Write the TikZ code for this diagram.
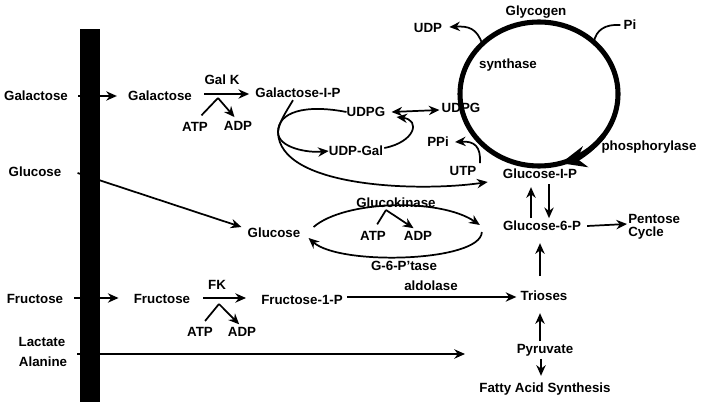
\documentclass[tikz,border=0pt]{standalone}
\usepackage{fontspec}
\setmainfont{Liberation Sans}
\usetikzlibrary{arrows.meta,calc}
\begin{document}
\begin{tikzpicture}[x=0.75pt,y=-0.75pt,
  lbl/.style={inner sep=0pt, font=\fontsize{10}{11}\selectfont\bfseries},
  ln/.style={line width=1.3pt},
  arr/.style={line width=1.3pt, -{Stealth[length=8pt,width=7pt]}},
  darr/.style={line width=1.3pt, {Stealth[length=8pt,width=7pt]}-{Stealth[length=8pt,width=7pt]}},
  glyc/.style={line width=3.8pt}]
\useasboundingbox (0,0) rectangle (702,402);
\fill[white] (0,0) rectangle (702,402);
% membrane bar
\fill[black] (80,29) rectangle (100,402);
% left labels
\node[lbl] (galL) at (36,96) {Galactose};
\node[lbl] (gluL) at (35,172) {Glucose};
\node[lbl] (fruL) at (35,299) {Fructose};
\node[lbl] (lac) at (42,342) {Lactate};
\node[lbl] (ala) at (43,362) {Alanine};
% inner labels
\node[lbl] (galI) at (160,96) {Galactose};
\node[lbl] (galK) at (222,80) {Gal K};
\node[lbl] (atp1) at (195,127) {ATP};
\node[lbl] (adp1) at (238,126) {ADP};
\node[lbl] (gal1p) at (298,93) {Galactose-I-P};
\node[lbl] (udpgL) at (366,112) {UDPG};
\node[lbl] (udpgR) at (461,108) {UDPG};
\node[lbl] (udpgal) at (356,151) {UDP-Gal};
\node[lbl] (ppi) at (438,142) {PPi};
\node[lbl] (utp) at (463,171) {UTP};
\node[lbl] (udp) at (428,28) {UDP};
\node[lbl] (glycogen) at (536,12) {Glycogen};
\node[lbl] (pi) at (630,25) {Pi};
\node[lbl] (synth) at (508,65) {synthase};
\node[lbl] (phos) at (649,147) {phosphorylase};
\node[lbl] (g1p) at (540,174) {Glucose-I-P};
\node[lbl] (g6p) at (542,226) {Glucose-6-P};
\node[lbl,anchor=west] (pent) at (628,219) {Pentose};
\node[lbl,anchor=west] (cyc) at (628,233) {Cycle};
\node[lbl] (gluI) at (274,233) {Glucose};
\node[lbl] (gk) at (396,203) {Glucokinase};
\node[lbl] (atp3) at (373,236) {ATP};
\node[lbl] (adp3) at (418,236) {ADP};
\node[lbl] (g6pase) at (404,266) {G-6-P'tase};
\node[lbl] (fruI) at (162,299) {Fructose};
\node[lbl] (fk) at (217,285) {FK};
\node[lbl] (atp2) at (200,332) {ATP};
\node[lbl] (adp2) at (242,332) {ADP};
\node[lbl] (fru1p) at (302,300) {Fructose-1-P};
\node[lbl] (aldol) at (431,286) {aldolase};
\node[lbl] (trio) at (544,296) {Trioses};
\node[lbl] (pyr) at (545,350) {Pyruvate};
\node[lbl] (fas) at (545,389) {Fatty Acid Synthesis};
% helper coordinates
\coordinate (k1) at (218,98);
\coordinate (k2) at (219,304);
\coordinate (k3) at (386,210);
\coordinate (br) at (278,132);
\coordinate (lacStart) at (77,354);
\coordinate (lacEnd) at (465,354);
\coordinate (C) at (539,94);
\path (C) ++(136:59.25pt and 54pt) coordinate (eU);
\path (C) ++(46:59.25pt and 54pt) coordinate (eP);
% glycogen cycle
\draw[glyc] (C) ellipse [x radius=59.25pt, y radius=54pt];
\draw[glyc, -{Stealth[length=19pt,width=16pt]}] (C) ++(-35:59.25pt and 54pt)
  arc[start angle=-35, end angle=-74, x radius=59.25pt, y radius=54pt];
\draw[arr] (eU) .. controls (477,28) and (468,26) .. ($(udp.east)+(7,-1)$);
\draw[ln] ($(pi.west)+(-3,0)$) .. controls (605,24) and (596,30) .. (eP);
% transport across membrane
\draw[arr] ($(galL.east)+(10,0)$) -- ($(galI.west)+(-11,0)$);
\draw[arr] ($(gluL.east)+(16,1)$) -- ($(gluI.west)+(-6,-6)$);
\draw[arr] ($(fruL.east)+(11,-1)$) -- ($(fruI.west)+(-15,-1)$);
\draw[arr] (lacStart) -- (lacEnd);
% galactokinase
\draw[arr] ($(galI.east)+(12,-2)$) -- ($(gal1p.west)+(-6,1)$);
\draw[ln, shorten <=7pt] (atp1.north) -- (k1);
\draw[arr, shorten >=4pt] (k1) -- (adp1.north);
% fructokinase
\draw[arr] ($(fruI.east)+(13,-1)$) -- ($(fru1p.west)+(-15,-2)$);
\draw[ln, shorten <=6pt] (atp2.north) -- (k2);
\draw[arr, shorten >=3pt] (k2) -- (adp2.north);
\draw[arr] ($(fru1p.east)+(4,-3)$) -- ($(trio.west)+(-4,1)$);
% galactose-1-P uridyl transferase
\draw[ln] ($(gal1p.south)+(-5,2)$) .. controls (286,112) and (279,122) .. (br);
\draw[arr] (udpgL.west) .. controls (305,104) and (278,112) .. (br)
  .. controls (278,148) and (308,153) .. (udpgal.west);
\draw[arr] (br) .. controls (279,188) and (420,192) .. ($(g1p.west)+(-15,8)$);
\draw[arr] ($(udpgal.east)+(1,-3)$) .. controls (415,142) and (421,120) .. ($(udpgL.east)+(11,5)$);
\draw[darr] ($(udpgL.east)+(6,0)$) -- ($(udpgR.west)+(-2,2)$);
\draw[arr] ($(utp.north)+(17,-3)$) .. controls (481,146) and (474,141) .. ($(ppi.east)+(6,0)$);
% glucokinase / G-6-Pase loop
\draw[arr] ($(gluI.east)+(13,-6)$) .. controls (345,200) and (440,198) .. ($(g6p.west)+(-23,-1)$);
\draw[arr] ($(g6p.west)+(-21,6)$) .. controls (481,262) and (340,266) .. ($(gluI.east)+(8,5)$);
\draw[ln, shorten <=6pt] (atp3.north) -- (k3);
\draw[arr, shorten >=4pt] (k3) -- (adp3.north);
% vertical arrows
\draw[arr, shorten <=2pt, shorten >=6pt] ($(g6p.north)+(-11,0)$) -- ($(g1p.south)+(-9,0)$);
\draw[arr, shorten <=4pt, shorten >=2pt] ($(g1p.south)+(9,0)$) -- ($(g6p.north)+(7,0)$);
\draw[arr] ($(g6p.east)+(6,0)$) -- ($(pent.west)!0.5!(cyc.west)+(-1,-2)$);
\draw[arr, shorten <=11pt, shorten >=9pt] ($(trio.north)+(-4,0)$) -- ($(g6p.south)+(-2,0)$);
\draw[arr, shorten <=2pt, shorten >=9pt] ($(pyr.north)+(-5,0)$) -- ($(trio.south)+(-4,0)$);
\draw[arr, shorten <=2pt, shorten >=5pt] ($(pyr.south)+(-4,0)$) -- ($(fas.north)+(-4,0)$);
\end{tikzpicture}
\end{document}
